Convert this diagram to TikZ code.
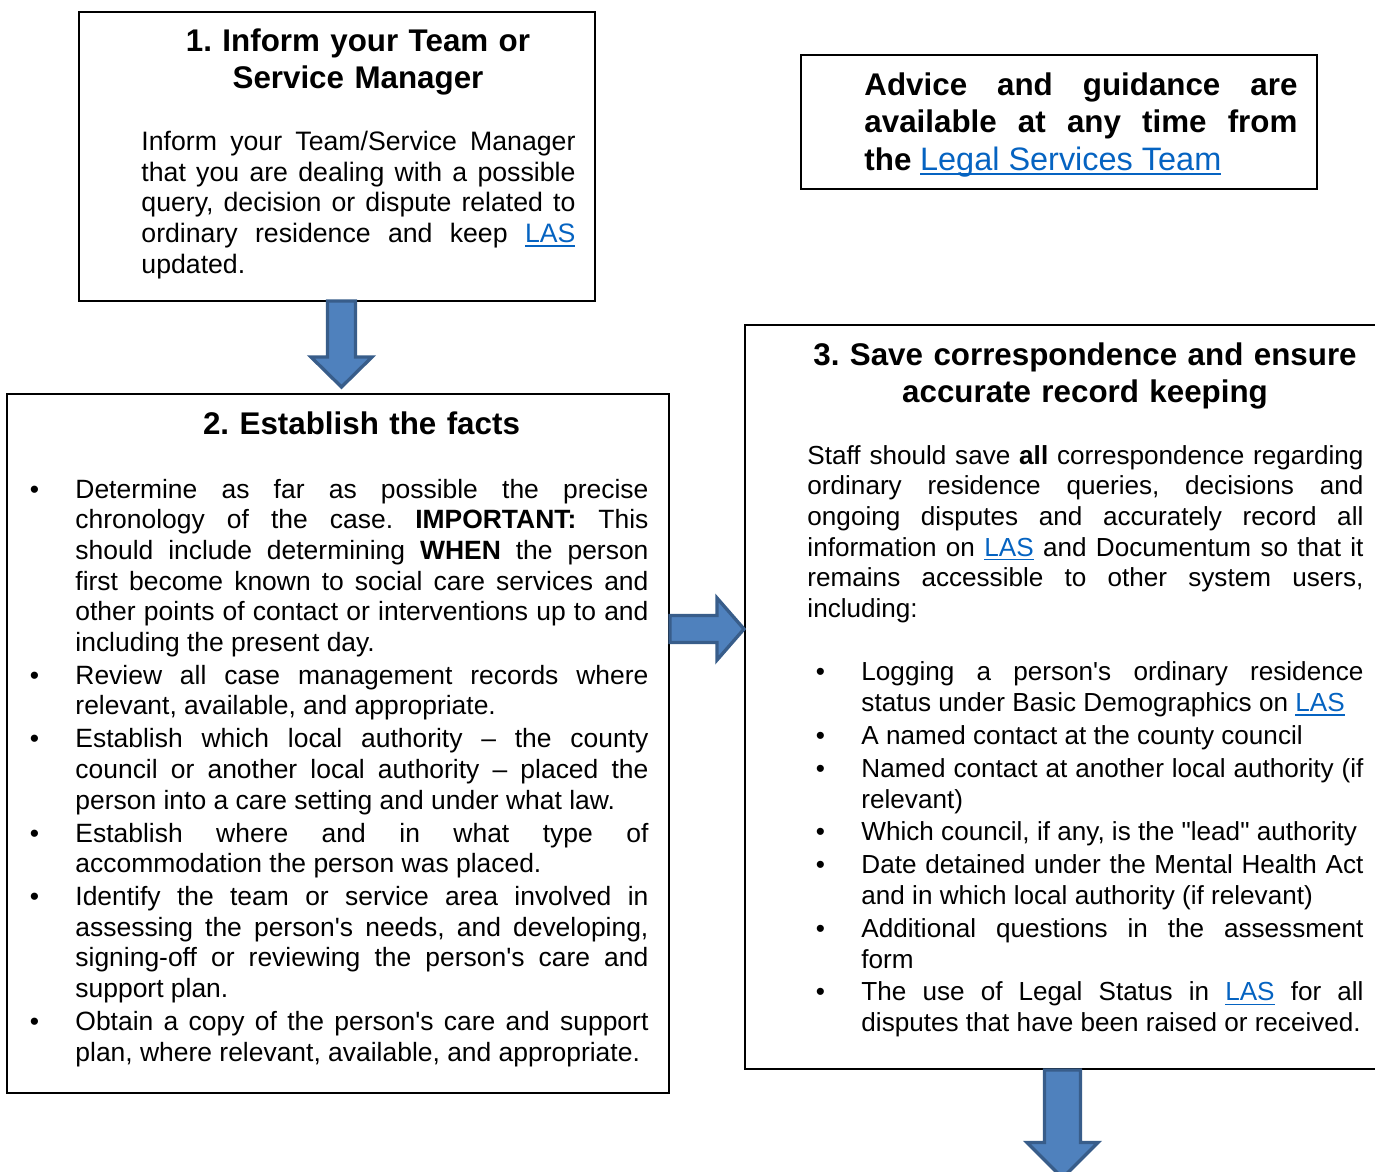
\documentclass[tikz,border=0pt]{standalone}
\usepackage{fontspec}
\setmainfont{Liberation Sans}[Ligatures=TeXOff]
\usepackage{xcolor}
\usetikzlibrary{calc,fit}
\definecolor{linkblue}{HTML}{0563C1}
\definecolor{arrowfill}{HTML}{4F81BD}
\definecolor{arrowline}{HTML}{385D8A}
\newcommand\parset{\frenchspacing\tolerance=10000 \hbadness=10000 \hyphenpenalty=10000 \exhyphenpenalty=10000 }
\newcommand\bodyfont{\fontsize{12pt}{13.8pt}\selectfont\parset}
\newcommand\listfont{\fontsize{11.9pt}{13.8pt}\selectfont\parset}
\newcommand\narrowfont{\fontsize{11.75pt}{13.8pt}\selectfont\parset}
\newcommand\headfont{\fontsize{14.1pt}{16.85pt}\selectfont\bfseries\parset}
\newcommand\lnk[1]{{\color{linkblue}\setbox0=\hbox{#1}\rlap{\rule[-2pt]{\wd0}{0.8pt}}\box0}}
\newcommand\firstitem{\noindent\llap{\makebox[36.9pt]{\textbullet}}}
\newcommand\bitem{\par\vspace{1pt}\firstitem}
\tikzset{
  panel/.style={draw, line width=0.9pt, inner sep=0pt},
  heading/.style={inner sep=0pt, anchor=base, align=center, text width=300pt, font=\headfont},
  bodytext/.style={inner sep=0pt, anchor=base west, align=justify, font=\bodyfont},
  blockarrow/.style={fill=arrowfill, draw=arrowline, line width=1.5pt, line join=miter}}

\begin{document}
\begin{tikzpicture}[x=0.45pt, y=-0.45pt]
  \useasboundingbox (0,0) rectangle (1375,1171);
  % frames
  \node[panel, fit={(79,12) (595,301)}] (box1) {};
  \node[panel, fit={(801,55) (1317,189)}] (advbox) {};
  \node[panel, fit={(7,394) (669,1093)}] (box2) {};
  \node[panel, fit={(745,325) (1377,1069)}] (box3) {};

  % step 1
  \node[heading] (h1) at (358,51.5) {1. Inform your Team or\\Service Manager};
  \node[bodytext, text width=195.3pt] (t1) at (141,150.5) {Inform your Team/Service Manager\linebreak
    that you are dealing with a possible\linebreak query, decision or dispute related to\linebreak
    ordinary residence and keep \lnk{LAS}\linebreak updated.};

  % advice
  \node[bodytext, font=\headfont, text width=194.85pt] (adv) at (864,95.5) {Advice and guidance are\linebreak
    available at any time from\linebreak the \lnk{\mdseries\fontsize{14.6pt}{16.85pt}\selectfont Legal Services Team}};

  % step 2
  \node[heading] (h2) at (361.5,434.5) {2. Establish the facts};
  \node[bodytext, font=\listfont, text width=257.85pt] (t2) at (75,498) {\firstitem
    Determine as far as possible the precise\linebreak chronology of the case. \textbf{IMPORTANT:} This\linebreak
    should include determining \textbf{WHEN} the person\linebreak first become known to social care services and\linebreak
    other points of contact or interventions up to and\linebreak including the present day.
    \bitem Review all case management records where\linebreak relevant, available, and appropriate.
    \bitem Establish which local authority – the county\linebreak council or another local authority – placed the\linebreak
    person into a care setting and under what law.
    \bitem Establish where and in what type of\linebreak accommodation the person was placed.
    \bitem Identify the team or service area involved in\linebreak assessing the person's needs, and developing,\linebreak
    signing-off or reviewing the person's care and\linebreak support plan.
    \bitem Obtain a copy of the person's care and support\linebreak plan, where relevant, available, and appropriate.\par};

  % step 3
  \node[heading] (h3) at (1085,365.5) {3. Save correspondence and ensure\\accurate record keeping};
  \node[bodytext, font=\narrowfont, text width=250.2pt] (t3) at (807,464) {Staff should save \textbf{all} correspondence regarding\linebreak
    ordinary residence queries, decisions and\linebreak ongoing disputes and accurately record all\linebreak
    information on \lnk{LAS} and Documentum so that it\linebreak remains accessible to other system users,\linebreak including:
    \par\vspace{13.8pt}\leftskip=24.3pt
    \bitem Logging a person's ordinary residence\linebreak status under Basic Demographics on \lnk{LAS}
    \bitem A named contact at the county council
    \bitem Named contact at another local authority (if\linebreak relevant)
    \bitem Which council, if any, is the "lead" authority
    \bitem Date detained under the Mental Health Act\linebreak and in which local authority (if relevant)
    \bitem Additional questions in the assessment\linebreak form
    \bitem The use of Legal Status in \lnk{LAS} for all\linebreak disputes that have been raised or received.\par};

  % block arrows
  \path ($(box1.south)+(4.5,-1)$) coordinate (s1) (s1 |- box2.north) ++(0,-6) coordinate (e1);
  \draw[blockarrow] ($(s1)+(-14,0)$) -- ($(s1)+(14,0)$) -- ($(e1)+(14,-30)$) -- ($(e1)+(30.5,-30)$)
    -- (e1) -- ($(e1)+(-30.5,-30)$) -- ($(e1)+(-14,-30)$) -- cycle;
  \path ($(box2.east)+(0,-114.5)$) coordinate (s2) (box3.west |- s2) coordinate (e2);
  \draw[blockarrow] ($(s2)+(0,-13.5)$) -- ($(e2)+(-27,-13.5)$) -- ($(e2)+(-27,-31)$) -- (e2)
    -- ($(e2)+(-27,31)$) -- ($(e2)+(-27,13.5)$) -- ($(s2)+(0,13.5)$) -- cycle;
  \path ($(box3.south)+(1.5,0)$) coordinate (s3) ++(0,108) coordinate (e3);
  \draw[blockarrow] ($(s3)+(-18,0)$) -- ($(s3)+(18,0)$) -- ($(e3)+(18,-35.5)$) -- ($(e3)+(35.5,-35.5)$)
    -- (e3) -- ($(e3)+(-35.5,-35.5)$) -- ($(e3)+(-18,-35.5)$) -- cycle;
\end{tikzpicture}
\end{document}
